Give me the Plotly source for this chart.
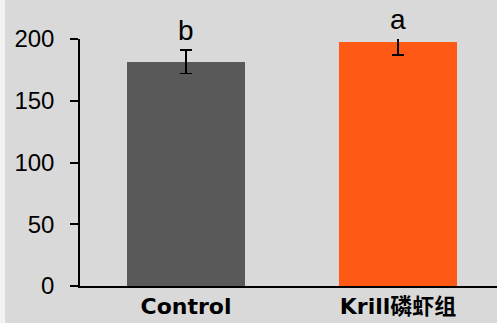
import plotly.graph_objects as go

# Group means, error half-widths and significance letters
groups = ["Control", "Krill磷虾组"]
means = [181.5, 197.5]
errors = [9.5, 10.5]
letters = ["b", "a"]
bar_colors = ["#595959", "#FF5916"]
y_ticks = [0, 50, 100, 150, 200]

Y_MAX = 200
W, H = 497, 323
M_L, M_R, M_T, M_B = 80, 0, 39, 37

fig = go.Figure(
    go.Bar(
        x=groups,
        y=means,
        marker=dict(color=bar_colors, line=dict(width=0)),
        width=0.557,
        error_y=dict(type="data", array=errors, visible=True,
                     color="#000000", thickness=1.5, width=6),
        cliponaxis=True,
    )
)

# Significance letters sit just above each error bar
for g, m, e, t in zip(groups, means, errors, letters):
    fig.add_annotation(
        x=g, y=min(m + e, Y_MAX), xref="x", yref="y",
        text=t, showarrow=False, yanchor="bottom", yshift=2,
        font=dict(family="Liberation Sans", size=28, color="#000000"),
    )

plot_w = W - M_L - M_R
# Light strip along the left edge of the page
fig.add_shape(
    type="rect", xref="paper", yref="paper",
    x0=-M_L / plot_w, x1=-(M_L - 5) / plot_w, y0=-1, y1=2,
    fillcolor="#F2F2F2", line=dict(width=0), layer="below",
)

fig.update_layout(
    width=W, height=H,
    margin=dict(l=M_L, r=M_R, t=M_T, b=M_B, pad=0, autoexpand=False),
    paper_bgcolor="#D9D9D9",
    plot_bgcolor="#D9D9D9",
    showlegend=False,
    bargap=0,
)

fig.update_xaxes(
    range=[-0.5, 1.467], automargin=False,
    showline=True, linecolor="#000000", linewidth=1.5,
    ticks="", showgrid=False, zeroline=False,
    tickfont=dict(family="DejaVu Sans, Noto Sans CJK SC", size=22,
                  color="#000000", weight="bold"),
    ticklabelstandoff=0,
)

fig.update_yaxes(
    range=[0, Y_MAX], automargin=False,
    tickvals=y_ticks,
    showline=True, linecolor="#000000", linewidth=1.5,
    ticks="outside", ticklen=8, tickwidth=1.5, tickcolor="#000000",
    showgrid=False, zeroline=False,
    tickfont=dict(family="Liberation Sans", size=24, color="#000000"),
    ticklabelstandoff=11,
)

fig.write_html("out.html")
